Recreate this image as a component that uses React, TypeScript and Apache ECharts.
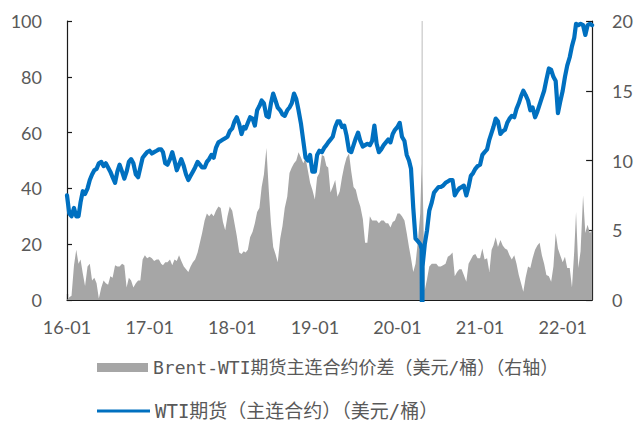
import React, { useEffect, useRef } from "react";
import * as echarts from "echarts";

// Samples on the 1st, 11th and 21st of each month.
const wti2016 = [37.5, 31, 30, 33, 30, 30, 35, 39, 38, 40, 43, 45, 46.5, 47, 49, 49.5, 48, 49, 47.5, 46, 44, 42, 46, 48.5, 46, 43.5, 46, 49.5, 50.5, 49, 45, 44, 47.5, 51, 52, 53];
const wti2017 = [53.5, 52.5, 53, 53.5, 54, 54, 53, 49, 48.5, 50.5, 53, 50, 46.5, 48.5, 50.5, 48, 45, 43, 44.5, 46, 47.5, 49.5, 48.5, 47.5, 47.5, 49.5, 50.5, 52, 51, 54.5, 56.5, 57, 57.5, 58, 58.5, 60.5];
const wti2018 = [61.5, 64, 65.5, 63, 59.5, 62, 61.5, 63.5, 65.5, 65, 62.5, 68, 69.5, 71.5, 70.5, 66, 65.5, 70.5, 74, 71.5, 69, 68, 66.5, 66, 68, 69, 70.5, 74, 72, 68, 63, 57, 51, 50, 52, 46];
const wti2019 = [46, 52, 53.5, 53, 54.5, 55.5, 56.5, 57.5, 58.5, 62, 64, 64, 62, 62.5, 59, 53.5, 53, 55.5, 58, 60, 57, 55, 55.5, 56, 55.5, 57, 62.5, 56, 53, 54, 55.5, 56.5, 57.5, 56.5, 59.5, 61];
const wti2020 = [62, 63.5, 58.5, 57, 52, 50, 47, 33, 22, 21, 20, 12, 20, 25, 32, 35, 38.5, 39.5, 40.5, 40.5, 41, 42, 42.5, 43, 43, 37.5, 39, 40, 40.5, 41, 37.5, 40.5, 44.5, 45.5, 47, 48];
const wti2021 = [48.5, 52, 53, 54, 57.5, 60, 62, 65, 64, 59.5, 60.5, 61, 63.5, 65, 66, 65.5, 68.5, 70.5, 73, 75, 73.5, 71.5, 68, 69, 65.5, 67.5, 70, 72.5, 75, 79, 83, 82.5, 80, 78.5, 67, 71];
const wti2022 = [75, 80, 84, 87, 91, 94, 99, 98.5, 99, 98.5, 95, 98.5, 99, 98.5];

const spread2016 = [0, 0.2, 0.3, 2.5, 3.6, 2.6, 2.9, 1.9, 1.0, 2.4, 2.6, 1.4, 1.6, 1.2, 0.1, 0.9, 1.4, 1.2, 1.1, 1.7, 1.6, 2.5, 2.4, 2.4, 2.6, 2.5, 0.9, 1.6, 1.4, 0.9, 1.2, 1.4, 1.4, 2.9, 3.2, 3.0];
const spread2017 = [3.1, 3.0, 2.8, 2.9, 2.9, 2.6, 2.5, 2.7, 2.7, 2.9, 2.5, 2.9, 2.8, 3.2, 2.8, 2.4, 2.2, 2.0, 2.4, 2.7, 2.9, 3.4, 4.1, 4.8, 5.7, 6.2, 6.0, 6.2, 6.0, 6.4, 6.7, 6.6, 5.6, 5.0, 6.0, 6.7];
const spread2018 = [6.4, 5.5, 4.6, 3.4, 3.3, 3.5, 3.4, 3.6, 4.5, 4.9, 5.5, 6.3, 6.6, 8.1, 9.0, 10.9, 8.0, 5.5, 3.8, 3.3, 2.7, 4.4, 5.3, 6.6, 7.4, 9.1, 9.5, 9.8, 10.0, 10.6, 10.2, 9.8, 10.2, 9.3, 8.4, 7.9];
const spread2019 = [7.2, 8.8, 9.1, 10.4, 10.3, 9.6, 9.5, 7.7, 8.1, 8.6, 7.4, 7.8, 8.8, 9.6, 10.2, 10.5, 9.2, 8.1, 7.9, 7.2, 6.7, 5.8, 4.1, 4.1, 6.0, 5.7, 5.7, 5.7, 5.5, 5.7, 5.7, 5.5, 5.5, 5.2, 5.6, 5.7];
const spread2020 = [6.2, 6.2, 6.0, 5.7, 4.8, 3.8, 3.0, 2.0, 2.6, 4.3, 6.2, 9.0, 0.7, 1.5, 2.4, 2.6, 2.6, 2.6, 2.4, 2.4, 2.5, 2.6, 3.1, 3.2, 3.4, 1.7, 2.0, 2.2, 2.2, 1.8, 1.3, 2.6, 2.9, 3.2, 3.3, 3.0];
const spread2021 = [3.0, 3.7, 2.9, 3.0, 2.0, 3.6, 3.9, 4.5, 3.8, 4.3, 3.9, 3.7, 3.6, 3.2, 2.9, 3.2, 2.6, 1.8, 1.2, 0.6, 1.6, 2.4, 2.3, 3.0, 3.6, 3.9, 4.1, 3.2, 2.6, 1.8, 1.7, 1.3, 2.4, 4.8, 3.7, 3.2];
const spread2022 = [2.7, 3.1, 2.3, 2.3, 0.9, 3.5, 6.3, 2.3, 3.5, 7.5, 4.8, 5.4, 4.8, 5.0];

// Days around the April 2020 negative settlement.
const crashDates = ["2020-04-17", "2020-04-20"];
const crashWti = [18.3, -37.6];
const crashSpread = [9.8, 63];

const firstYear = 2016;
const lastDate = "2022-05-11";
const slotDays = [1, 11, 21];

const wtiName = "WTI期货（主连合约）（美元/桶）";
const spreadName = "Brent-WTI期货主连合约价差（美元/桶）（右轴）";

const yearFraction = (y: number, m: number, d: number) => {
  const start = Date.UTC(y, 0, 1);
  const end = Date.UTC(y + 1, 0, 1);
  return y + (Date.UTC(y, m, d) - start) / (end - start);
};

const parseDate = (s: string) => {
  const [y, m, d] = s.split("-").map(Number);
  return yearFraction(y, m - 1, d);
};

const slotX = (k: number) => {
  const y = firstYear + Math.floor(k / 36);
  const m = Math.floor((k % 36) / 3);
  return yearFraction(y, m, slotDays[k % 3]);
};

const buildSeries = (slots: number[], extraDates: string[], extraVals: number[]) => {
  const pts: [number, number][] = slots.map((v, k) => [slotX(k), v]);
  extraDates.forEach((d, i) => pts.push([parseDate(d), extraVals[i]]));
  pts.sort((a, b) => a[0] - b[0]);
  return pts;
};

const wtiSlots = [...wti2016, ...wti2017, ...wti2018, ...wti2019, ...wti2020, ...wti2021, ...wti2022];
const spreadSlots = [...spread2016, ...spread2017, ...spread2018, ...spread2019, ...spread2020, ...spread2021, ...spread2022];

const labelFont = "Lato, 'Open Sans', sans-serif";
const legendFont = "'DejaVu Sans Mono', 'Noto Sans CJK SC', monospace";
const labelColor = "#595959";
const axisColor = "#1a1a1a";

export default function App() {
  const ref = useRef<HTMLDivElement>(null);

  useEffect(() => {
    if (!ref.current) return;
    const chart = echarts.init(ref.current, null, { renderer: "svg" });
    const axisLine = { show: true, lineStyle: { color: axisColor, width: 1.2 } };
    chart.setOption({
      animation: false,
      backgroundColor: "#ffffff",
      grid: { left: 67, right: 43, top: 21, bottom: 121, containLabel: false },
      legend: [
        {
          orient: "vertical",
          left: 97,
          top: 357.5,
          padding: 0,
          itemWidth: 51,
          itemHeight: 9,
          selectedMode: false,
          itemStyle: { borderWidth: 0 },
          textStyle: { fontFamily: legendFont, fontSize: 18, color: labelColor, lineHeight: 20 },
          data: [{ name: spreadName, icon: "rect" }],
        },
        {
          orient: "vertical",
          left: 97,
          top: 401,
          padding: 0,
          itemWidth: 53,
          itemHeight: 3,
          selectedMode: false,
          itemStyle: { borderWidth: 0 },
          textStyle: { fontFamily: legendFont, fontSize: 19, color: labelColor, lineHeight: 20 },
          data: [{ name: wtiName, icon: "rect" }],
        },
      ],
      xAxis: {
        type: "value",
        min: firstYear,
        max: parseDate(lastDate),
        interval: 1,
        axisLine,
        axisTick: { show: true, inside: true, length: 6, lineStyle: { color: axisColor, width: 1.2 } },
        splitLine: { show: false },
        axisLabel: {
          color: labelColor,
          fontFamily: labelFont,
          fontSize: 18,
          margin: 18,
          showMaxLabel: false,
          formatter: (v: number) =>
            Number.isInteger(v) ? `${String(v).slice(2)}-01` : "",
        },
      },
      yAxis: [
        {
          type: "value",
          min: 0,
          max: 100,
          interval: 20,
          axisLine,
          axisTick: { show: true, inside: true, length: 5, lineStyle: { color: axisColor, width: 1.2 } },
          splitLine: { show: false },
          axisLabel: { color: labelColor, fontFamily: labelFont, fontSize: 18, margin: 25 },
        },
        {
          type: "value",
          position: "right",
          min: 0,
          max: 20,
          interval: 5,
          axisLine,
          axisTick: { show: true, inside: true, length: 6, lineStyle: { color: axisColor, width: 1.2 } },
          splitLine: { show: false },
          axisLabel: { color: labelColor, fontFamily: labelFont, fontSize: 18, margin: 20 },
        },
      ],
      series: [
        {
          name: spreadName,
          type: "line",
          yAxisIndex: 1,
          data: buildSeries(spreadSlots, crashDates, crashSpread),
          showSymbol: false,
          symbol: "none",
          clip: true,
          color: "#A6A6A6",
          itemStyle: { color: "#A6A6A6" },
          lineStyle: { width: 0 },
          areaStyle: { color: "#A6A6A6", opacity: 1 },
          z: 1,
        },
        {
          name: wtiName,
          type: "line",
          yAxisIndex: 0,
          data: buildSeries(wtiSlots, crashDates, crashWti),
          showSymbol: false,
          symbol: "none",
          clip: true,
          color: "#0070C0",
          itemStyle: { color: "#0070C0" },
          lineStyle: { width: 4.2, color: "#0070C0", join: "round", cap: "round" },
          z: 2,
        },
      ],
    });
    return () => chart.dispose();
  }, []);

  return (
    <div
      ref={ref}
      style={{ position: "fixed", left: 0, top: 0, width: 636, height: 421, background: "#fff" }}
    />
  );
}
